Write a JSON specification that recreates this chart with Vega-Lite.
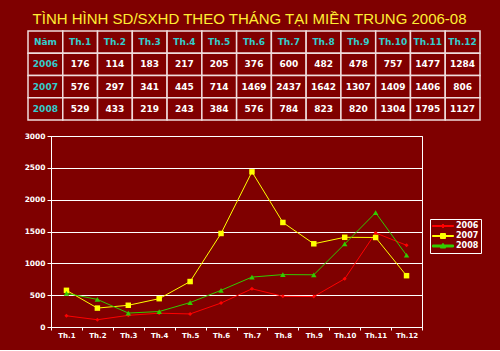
{
  "$schema": "https://vega.github.io/schema/vega-lite/v6.json",
  "background": "#7f0000",
  "padding": {"left": 23, "top": 12, "right": 19, "bottom": 11},
  "title": {
    "text": "TÌNH HÌNH SD/SXHD THEO THÁNG TẠI MIỀN TRUNG 2006-08",
    "font": "Liberation Sans",
    "fontSize": 15,
    "fontWeight": "normal",
    "color": "#ffee33",
    "anchor": "middle",
    "dx": -3,
    "offset": 3
  },
  "config": {
    "view": {"stroke": null},
    "font": "DejaVu Sans"
  },
  "spacing": 10,
  "datasets": {
    "head": [
      {"month": "Năm", "year": "Năm", "label": "Năm"},
      {"month": "Th.1", "year": "Năm", "label": "Th.1"},
      {"month": "Th.2", "year": "Năm", "label": "Th.2"},
      {"month": "Th.3", "year": "Năm", "label": "Th.3"},
      {"month": "Th.4", "year": "Năm", "label": "Th.4"},
      {"month": "Th.5", "year": "Năm", "label": "Th.5"},
      {"month": "Th.6", "year": "Năm", "label": "Th.6"},
      {"month": "Th.7", "year": "Năm", "label": "Th.7"},
      {"month": "Th.8", "year": "Năm", "label": "Th.8"},
      {"month": "Th.9", "year": "Năm", "label": "Th.9"},
      {"month": "Th.10", "year": "Năm", "label": "Th.10"},
      {"month": "Th.11", "year": "Năm", "label": "Th.11"},
      {"month": "Th.12", "year": "Năm", "label": "Th.12"},
      {"month": "Năm", "year": "2006", "label": "2006"},
      {"month": "Năm", "year": "2007", "label": "2007"},
      {"month": "Năm", "year": "2008", "label": "2008"}
    ],
    "vals": [
      {"month": "Th.1", "year": "2006", "value": 176},
      {"month": "Th.2", "year": "2006", "value": 114},
      {"month": "Th.3", "year": "2006", "value": 183},
      {"month": "Th.4", "year": "2006", "value": 217},
      {"month": "Th.5", "year": "2006", "value": 205},
      {"month": "Th.6", "year": "2006", "value": 376},
      {"month": "Th.7", "year": "2006", "value": 600},
      {"month": "Th.8", "year": "2006", "value": 482},
      {"month": "Th.9", "year": "2006", "value": 478},
      {"month": "Th.10", "year": "2006", "value": 757},
      {"month": "Th.11", "year": "2006", "value": 1477},
      {"month": "Th.12", "year": "2006", "value": 1284},
      {"month": "Th.1", "year": "2007", "value": 576},
      {"month": "Th.2", "year": "2007", "value": 297},
      {"month": "Th.3", "year": "2007", "value": 341},
      {"month": "Th.4", "year": "2007", "value": 445},
      {"month": "Th.5", "year": "2007", "value": 714},
      {"month": "Th.6", "year": "2007", "value": 1469},
      {"month": "Th.7", "year": "2007", "value": 2437},
      {"month": "Th.8", "year": "2007", "value": 1642},
      {"month": "Th.9", "year": "2007", "value": 1307},
      {"month": "Th.10", "year": "2007", "value": 1409},
      {"month": "Th.11", "year": "2007", "value": 1406},
      {"month": "Th.12", "year": "2007", "value": 806},
      {"month": "Th.1", "year": "2008", "value": 529},
      {"month": "Th.2", "year": "2008", "value": 433},
      {"month": "Th.3", "year": "2008", "value": 219},
      {"month": "Th.4", "year": "2008", "value": 243},
      {"month": "Th.5", "year": "2008", "value": 384},
      {"month": "Th.6", "year": "2008", "value": 576},
      {"month": "Th.7", "year": "2008", "value": 784},
      {"month": "Th.8", "year": "2008", "value": 823},
      {"month": "Th.9", "year": "2008", "value": 820},
      {"month": "Th.10", "year": "2008", "value": 1304},
      {"month": "Th.11", "year": "2008", "value": 1795},
      {"month": "Th.12", "year": "2008", "value": 1127}
    ]
  },
  "vconcat": [
    {
      "width": 429,
      "height": 89,
      "encoding": {
        "x": {
          "field": "month",
          "type": "nominal",
          "scale": {
            "domain": ["Năm", "Th.1", "Th.2", "Th.3", "Th.4", "Th.5", "Th.6", "Th.7", "Th.8", "Th.9", "Th.10", "Th.11", "Th.12"],
            "range": [-23, 429],
            "paddingInner": 0,
            "paddingOuter": 0
          },
          "axis": null
        },
        "y": {
          "field": "year",
          "type": "nominal",
          "scale": {
            "domain": ["Năm", "2006", "2007", "2008"],
            "paddingInner": 0,
            "paddingOuter": 0
          },
          "axis": null
        }
      },
      "layer": [
        {
          "data": {"name": "head"},
          "mark": {"type": "rect", "fill": "#800000", "stroke": "#f0dcdc", "strokeWidth": 1.5}
        },
        {
          "data": {"name": "vals"},
          "mark": {"type": "rect", "fill": "#800000", "stroke": "#f0dcdc", "strokeWidth": 1.5}
        },
        {
          "data": {"name": "head"},
          "mark": {"type": "text", "color": "#33cccc", "font": "DejaVu Sans", "fontWeight": "bold", "fontSize": 9},
          "encoding": {"text": {"field": "label", "type": "nominal"}}
        },
        {
          "data": {"name": "vals"},
          "mark": {"type": "text", "color": "#ffffff", "font": "DejaVu Sans", "fontWeight": "bold", "fontSize": 9},
          "encoding": {"text": {"field": "value", "type": "quantitative", "format": "d"}}
        }
      ]
    },
    {
      "width": 371,
      "height": 191,
      "data": {"name": "vals"},
      "view": {"stroke": "#ffffff", "strokeWidth": 1},
      "encoding": {
        "x": {
          "field": "month",
          "type": "ordinal",
          "sort": ["Th.1", "Th.2", "Th.3", "Th.4", "Th.5", "Th.6", "Th.7", "Th.8", "Th.9", "Th.10", "Th.11", "Th.12"],
          "scale": {"type": "band", "paddingInner": 0, "paddingOuter": 0},
          "axis": {
            "title": null,
            "tickBand": "extent",
            "labelAngle": 0,
            "labelColor": "#ffffff",
            "labelFont": "DejaVu Sans",
            "labelFontWeight": "bold",
            "labelFontSize": 7,
            "labelPadding": 1,
            "domainColor": "#ffffff",
            "tickColor": "#ffffff",
            "tickSize": 3,
            "grid": false
          }
        },
        "y": {
          "field": "value",
          "type": "quantitative",
          "scale": {"domain": [0, 3000]},
          "axis": {
            "title": null,
            "values": [0, 500, 1000, 1500, 2000, 2500, 3000],
            "format": "d",
            "grid": true,
            "gridColor": "#ffffff",
            "gridOpacity": 1,
            "gridWidth": 1,
            "domainColor": "#ffffff",
            "tickColor": "#ffffff",
            "tickSize": 4,
            "labelColor": "#ffffff",
            "labelFont": "DejaVu Sans",
            "labelFontWeight": "bold",
            "labelFontSize": 7.5,
            "labelPadding": 2
          }
        },
        "color": {
          "field": "year",
          "type": "nominal",
          "scale": {"domain": ["2006", "2007", "2008"], "range": ["#ff0000", "#ffff00", "#33cc00"]},
          "legend": {
            "orient": "none",
            "legendX": 379,
            "legendY": 188,
            "title": null,
            "strokeColor": "#ffffff",
            "fillColor": "#800000",
            "padding": 2,
            "labelColor": "#ffffff",
            "labelFont": "DejaVu Sans",
            "labelFontWeight": "bold",
            "labelFontSize": 8,
            "labelOffset": 14,
            "rowPadding": 0,
            "symbolSize": 81,
            "encode": {
              "symbols": {
                "update": {
                  "shape": {"signal": "datum.value === '2006' ? 'M-1,-0.11H3.67V0.11H-1ZM1.33,-0.45L1.78,0L1.33,0.45L0.88,0Z' : datum.value === '2007' ? 'M-1,-0.11H3.67V0.11H-1ZM0.78,-0.55H1.88V0.55H0.78Z' : 'M-1,-0.22H3.67V0.22H-1ZM1.33,-0.6L1.93,0.45H0.73Z'"},
                  "fill": {"signal": "datum.value === '2006' ? '#ff0000' : datum.value === '2007' ? '#ffff00' : '#33cc00'"},
                  "opacity": {"value": 1},
                  "size": {"value": 81}
                }
              }
            }
          }
        }
      },
      "layer": [
        {
          "mark": {"type": "line"},
          "encoding": {
            "strokeWidth": {
              "field": "year",
              "type": "ordinal",
              "scale": {"domain": ["2006", "2007", "2008"], "range": [1, 1, 2]},
              "legend": null
            }
          }
        },
        {
          "transform": [{"filter": "datum.year === '2006'"}],
          "mark": {"type": "point", "shape": "diamond", "filled": true, "size": 16, "opacity": 1}
        },
        {
          "transform": [{"filter": "datum.year === '2007'"}],
          "mark": {"type": "point", "shape": "square", "filled": true, "size": 30, "opacity": 1}
        },
        {
          "transform": [{"filter": "datum.year === '2008'"}],
          "mark": {"type": "point", "shape": "triangle-up", "filled": true, "size": 30, "opacity": 1}
        }
      ]
    }
  ]
}
